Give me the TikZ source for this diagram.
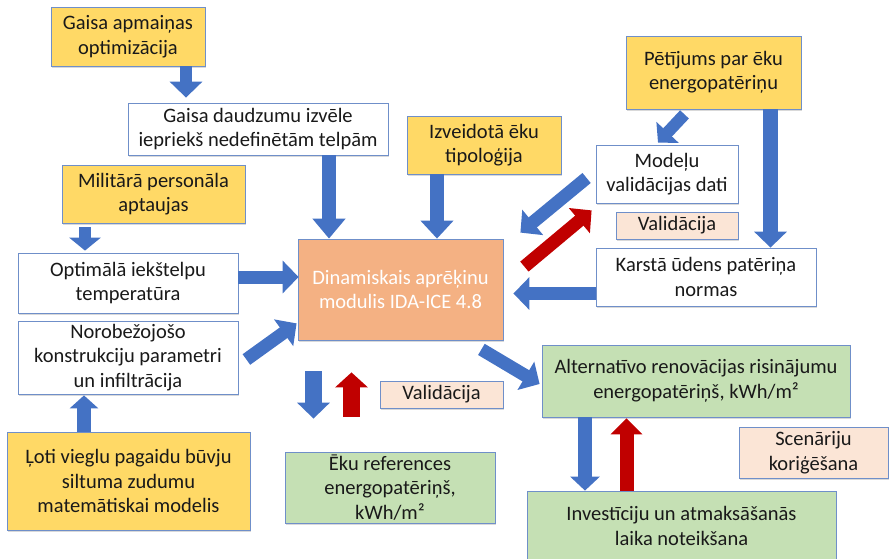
\documentclass[tikz,border=0pt]{standalone}
\usepackage{fontspec}
\setmainfont{Carlito}
\usetikzlibrary{arrows.meta,calc,shadows}

\definecolor{boxyellow}{HTML}{FFD966}
\definecolor{boxorange}{HTML}{F4B183}
\definecolor{boxgreen}{HTML}{C5E0B4}
\definecolor{boxpeach}{HTML}{FBE5D6}
\definecolor{boxline}{HTML}{6F8FC9}
\definecolor{arrblue}{HTML}{4472C4}
\definecolor{arrred}{HTML}{C00000}

\tikzset{
		box/.style={
			rectangle, draw=boxline, line width=0.8pt, align=center, inner sep=2pt,
			font=\fontsize{20.5}{24.5}\selectfont, text=black!90,
			drop shadow={shadow xshift=1.2pt, shadow yshift=-1.8pt, opacity=0.3}},
		yellowbox/.style={box, fill=boxyellow},
		whitebox/.style={box, fill=white},
		orangebox/.style={box, fill=boxorange, text=white},
		greenbox/.style={box, fill=boxgreen},
		peachbox/.style={box, fill=boxpeach},
		blk/.style={draw=arrblue, line width=13pt, -{Triangle[width=32pt,length=16pt]}},
		redblk/.style={blk, draw=arrred},
	}

\begin{document}
\begin{tikzpicture}[x=1pt, y=-1pt]
			\useasboundingbox (0,0) rectangle (889,559);
			% input boxes
			\node[yellowbox, minimum width=154pt, minimum height=59pt] (gaisaopt) at (128,36.5) {Gaisa apmaiņas\\optimizācija};
			\node[whitebox, minimum width=260pt, minimum height=52pt] (gaisaizv) at (258,129) {Gaisa daudzumu izvēle\\iepriekš nedefinētām telpām};
			\node[yellowbox, minimum width=183pt, minimum height=58pt] (militara) at (153.5,194) {Militārā personāla\\aptaujas};
			\node[whitebox, minimum width=220pt, minimum height=60pt] (temp) at (128,283) {Optimālā iekštelpu\\temperatūra};
			\node[whitebox, minimum width=220pt, minimum height=73pt] (konstr) at (128,357.5) {Norobežojošo\\konstrukciju parametri\\un infiltrācija};
			\node[yellowbox, minimum width=243pt, minimum height=98pt] (modelis) at (128.5,481) {Ļoti vieglu pagaidu būvju\\siltuma zudumu\\matemātiskai modelis};
			\node[yellowbox, minimum width=154pt, minimum height=58pt] (tipol) at (484,145) {Izveidotā ēku\\tipoloģija};
			\node[yellowbox, minimum width=175pt, minimum height=73pt] (petij) at (713.5,72.5) {Pētījums par ēku\\energopatēriņu};
			\node[whitebox, minimum width=142pt, minimum height=58pt] (valdati) at (667,174) {Modeļu\\validācijas dati};
			\node[peachbox, minimum width=122pt, minimum height=27pt] (valid1) at (677,225.5) {Validācija};
			\node[whitebox, minimum width=220pt, minimum height=58pt] (karsta) at (706,277) {Karstā ūdens patēriņa\\normas};
			% model
			\node[orangebox, minimum width=205pt, minimum height=101pt] (ida) at (400.5,289.5) {Dinamiskais aprēķinu\\modulis IDA-ICE 4.8};
			% results
			\node[peachbox, minimum width=123pt, minimum height=27pt] (valid2) at (441.5,394.5) {Validācija};
			\node[greenbox, minimum width=210pt, minimum height=71pt] (ekuref) at (390,487.5) {Ēku references\\energopatēriņš,\\kWh/m²};
			\node[greenbox, minimum width=308pt, minimum height=72pt] (altern) at (696,381) {Alternatīvo renovācijas risinājumu\\energopatēriņš, kWh/m²};
			\node[peachbox, minimum width=149pt, minimum height=51pt] (scen) at (813.5,452.5) {Scenāriju\\koriģēšana};
			\node[greenbox, minimum width=309pt, minimum height=70pt] (invest) at (681.5,526) {Investīciju un atmaksāšanās\\laika noteikšana};
			% arrows
			\draw[blk, line width=12pt] ($(gaisaopt.south)+(58,0)$) -- ($(gaisaizv.north)+(-72,-5)$);
			\draw[blk, line width=14pt, -{Triangle[width=32pt,length=20pt]}] ($(gaisaizv.south)+(71,0)$) -- ($(ida.north)+(-71.5,0)$);
			\draw[blk, line width=12pt, -{Triangle[width=31pt,length=13pt]}] ($(militara.south)+(-68.5,4)$) -- ($(temp.north)+(-43,-2)$);
			\draw[blk] ($(temp.east)+(0,-6)$) -- ($(ida.west)+(1,-12.5)$);
			\draw[blk, line width=14pt, -{Triangle[width=28pt,length=13pt]}] ($(modelis.north)+(-44.5,0)$) -- ($(konstr.south)+(-44,1)$);
			\draw[blk] ($(konstr.east)+(8,2)$) -- ($(ida.south west)+(-1,-17)$);
			\draw[blk, line width=14pt, -{Triangle[width=32pt,length=18pt]}] ($(tipol.south)+(-47,0)$) -- ($(ida.north)+(36.5,0)$);
			\draw[blk] ($(valdati.west)+(-9,4)$) -- ($(ida.north east)+(17,-6)$);
			\draw[redblk] ($(ida.north east)+(21,28)$) -- ($(valdati.south west)+(-4,7)$);
			\draw[blk, line width=12pt, -{Triangle[width=30pt,length=14pt]}] ($(petij.south)+(-29,5)$) -- ($(valdati.north)+(-9,-2)$);
			\draw[blk, line width=15pt, -{Triangle[width=32pt,length=16pt]}] ($(petij.south)+(57,0)$) -- ($(karsta.north)+(64.5,0)$);
			\draw[blk] ($(karsta.west)+(0,16.5)$) -- ($(ida.east)+(10,4)$);
			\draw[blk] ($(ida.south east)+(-22,9)$) -- ($(altern.west)+(-2,3)$);
			\draw[blk, line width=17pt] ($(ida.south)+(-87,31)$) -- ($(ekuref.north)+(-76.5,-33)$);
			\draw[redblk, line width=17pt, -{Triangle[width=32pt,length=15pt]}] ($(ekuref.north)+(-38.5,-35)$) -- ($(ida.south)+(-49,32)$);
			\draw[blk, line width=14pt, -{Triangle[width=29pt,length=14pt]}] ($(altern.south)+(-111,0)$) -- ($(invest.north)+(-96.5,0)$);
			\draw[redblk, line width=14pt, -{Triangle[width=31pt,length=16pt]}] ($(invest.north)+(-55,0)$) -- ($(altern.south)+(-69.5,1)$);
\end{tikzpicture}
\end{document}
